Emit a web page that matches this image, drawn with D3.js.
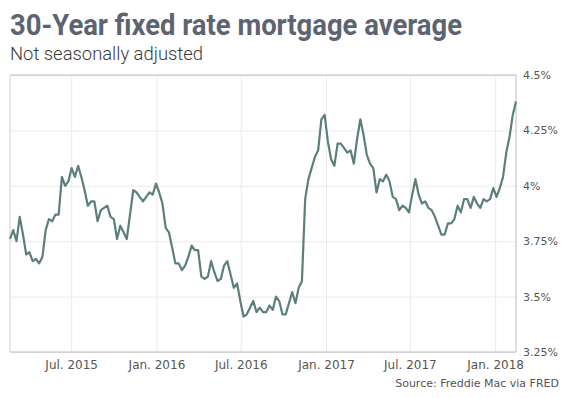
<!DOCTYPE html>
<html>
<head>
<meta charset="utf-8">
<script src="https://cdn.jsdelivr.net/npm/d3@7"></script>
<style>
  body { margin: 0; background: #fff; }
  svg { display: block; }
</style>
</head>
<body>
<div id="chart"></div>
<script>
// weekly 30-year fixed rate (Freddie Mac PMMS), first week is Feb 19 2015
const startDate = new Date(2015, 1, 19);

const rates2015 = [3.76, 3.80, 3.75, 3.86, 3.78, 3.69, 3.70, 3.66, 3.67, 3.65,
  3.68, 3.80, 3.85, 3.84, 3.87, 3.87, 4.04, 4.00, 4.02, 4.08,
  4.04, 4.09, 4.04, 3.98, 3.91, 3.93, 3.93, 3.84, 3.89, 3.90,
  3.91, 3.86, 3.85, 3.76, 3.82, 3.79, 3.76, 3.87, 3.98, 3.97,
  3.95, 3.93, 3.95, 3.97, 3.96, 4.01];
const rates2016 = [3.97, 3.92, 3.81, 3.79, 3.72, 3.65, 3.65, 3.62, 3.64, 3.68,
  3.73, 3.71, 3.71, 3.59, 3.58, 3.59, 3.66, 3.61, 3.57, 3.58,
  3.64, 3.66, 3.60, 3.54, 3.56, 3.48, 3.41, 3.42, 3.45, 3.48,
  3.43, 3.45, 3.43, 3.43, 3.46, 3.44, 3.50, 3.48, 3.42, 3.42,
  3.47, 3.52, 3.47, 3.54, 3.57, 3.94, 4.03, 4.08, 4.13, 4.16,
  4.30, 4.32];
const rates2017 = [4.20, 4.12, 4.09, 4.19, 4.19, 4.17, 4.15, 4.16, 4.10, 4.21,
  4.30, 4.23, 4.14, 4.10, 4.08, 3.97, 4.03, 4.02, 4.05, 4.02,
  3.95, 3.94, 3.89, 3.91, 3.90, 3.88, 3.96, 4.03, 3.96, 3.92,
  3.93, 3.90, 3.89, 3.86, 3.82, 3.78, 3.78, 3.83, 3.83, 3.85,
  3.91, 3.88, 3.94, 3.94, 3.90, 3.95, 3.92, 3.90, 3.94, 3.93,
  3.94, 3.99];
const rates2018 = [3.95, 3.99, 4.04, 4.15, 4.22, 4.32, 4.38];

const yTicks = [3.25, 3.5, 3.75, 4, 4.25, 4.5];
const yTickLabels = ["3.25%", "3.5%", "3.75%", "4%", "4.25%", "4.5%"];
const xTicks = [new Date(2015, 6, 1), new Date(2016, 0, 1), new Date(2016, 6, 1),
  new Date(2017, 0, 1), new Date(2017, 6, 1), new Date(2018, 0, 1)];
const xTickLabels = ["Jul. 2015", "Jan. 2016", "Jul. 2016", "Jan. 2017", "Jul. 2017", "Jan. 2018"];

const titleText = "30-Year fixed rate mortgage average";
const subtitleText = "Not seasonally adjusted";
const sourceText = "Source: Freddie Mac via FRED";

const rates = rates2015.concat(rates2016, rates2017, rates2018);
const data = rates.map((v, i) => ({ date: d3.timeWeek.offset(startDate, i), value: v }));

const width = 569, height = 398;
const margin = { top: 75, right: 53, bottom: 46, left: 10 };
const innerW = width - margin.left - margin.right;
const innerH = height - margin.top - margin.bottom;

const svg = d3.select('#chart').append('svg')
  .attr('width', width)
  .attr('height', height);

const xScale = d3.scaleTime()
  .domain(d3.extent(data, d => d.date))
  .range([0, innerW]);
const yScale = d3.scaleLinear()
  .domain([3.25, 4.5])
  .range([innerH, 0]);

// title + subtitle
svg.append('text')
  .attr('x', 10)
  .attr('y', 34.5)
  .attr('font-family', 'Roboto, sans-serif')
  .attr('font-weight', 700)
  .attr('font-size', 29.5)
  .attr('fill', '#5d6471')
  .attr('textLength', 452)
  .attr('lengthAdjust', 'spacingAndGlyphs')
  .text(titleText);

svg.append('text')
  .attr('x', 10)
  .attr('y', 60)
  .attr('font-family', 'Roboto, sans-serif')
  .attr('font-weight', 300)
  .attr('font-size', 17.5)
  .attr('fill', '#3a3a3a')
  .attr('textLength', 193)
  .attr('lengthAdjust', 'spacingAndGlyphs')
  .text(subtitleText);

const chart = svg.append('g')
  .attr('transform', `translate(${margin.left}, ${margin.top})`);

// grid lines
chart.append('g')
  .attr('class', 'grid-y')
  .call(d3.axisLeft(yScale).tickValues(yTicks).tickSize(-innerW).tickFormat(''))
  .call(g => g.select('.domain').remove())
  .selectAll('line')
  .attr('stroke', '#ebebeb');

chart.append('g')
  .attr('class', 'grid-x')
  .attr('transform', `translate(0, ${innerH})`)
  .call(d3.axisBottom(xScale).tickValues(xTicks).tickSize(-innerH).tickFormat(''))
  .call(g => g.select('.domain').remove())
  .selectAll('line')
  .attr('stroke', '#ebebeb');

// frame
chart.append('line').attr('x1', 0).attr('x2', innerW).attr('y1', 0).attr('y2', 0)
  .attr('stroke', '#bdbdbd');
chart.append('line').attr('x1', 0).attr('x2', 0).attr('y1', 0).attr('y2', innerH)
  .attr('stroke', '#cfcfcf');
chart.append('line').attr('x1', innerW).attr('x2', innerW).attr('y1', 0).attr('y2', innerH)
  .attr('stroke', '#bdbdbd');
chart.append('line').attr('x1', 0).attr('x2', innerW).attr('y1', innerH).attr('y2', innerH)
  .attr('stroke', '#bdbdbd');

// the series
const line = d3.line()
  .x(d => xScale(d.date))
  .y(d => yScale(d.value));

chart.append('path')
  .datum(data)
  .attr('fill', 'none')
  .attr('stroke', '#5b7f7d')
  .attr('stroke-width', 2.2)
  .attr('stroke-linejoin', 'round')
  .attr('d', line);

// y axis on the right
const yAxis = chart.append('g')
  .attr('class', 'axis-y')
  .attr('transform', `translate(${innerW}, 0)`)
  .call(d3.axisRight(yScale).tickValues(yTicks).tickSize(0).tickPadding(7)
    .tickFormat((d, i) => yTickLabels[i]));
yAxis.select('.domain').remove();
yAxis.selectAll('text')
  .attr('font-family', '"DejaVu Sans", sans-serif')
  .attr('font-size', 11)
  .attr('fill', '#555');

// x axis labels
const xAxis = chart.append('g')
  .attr('class', 'axis-x')
  .attr('transform', `translate(0, ${innerH})`)
  .call(d3.axisBottom(xScale).tickValues(xTicks).tickSize(0).tickPadding(8)
    .tickFormat((d, i) => xTickLabels[i]));
xAxis.select('.domain').remove();
xAxis.selectAll('text')
  .attr('font-family', '"DejaVu Sans", sans-serif')
  .attr('font-size', 12)
  .attr('fill', '#555');

svg.append('text')
  .attr('x', 559)
  .attr('y', 387)
  .attr('text-anchor', 'end')
  .attr('font-family', '"DejaVu Sans", sans-serif')
  .attr('font-size', 11)
  .attr('fill', '#555')
  .text(sourceText);
</script>
</body>
</html>
